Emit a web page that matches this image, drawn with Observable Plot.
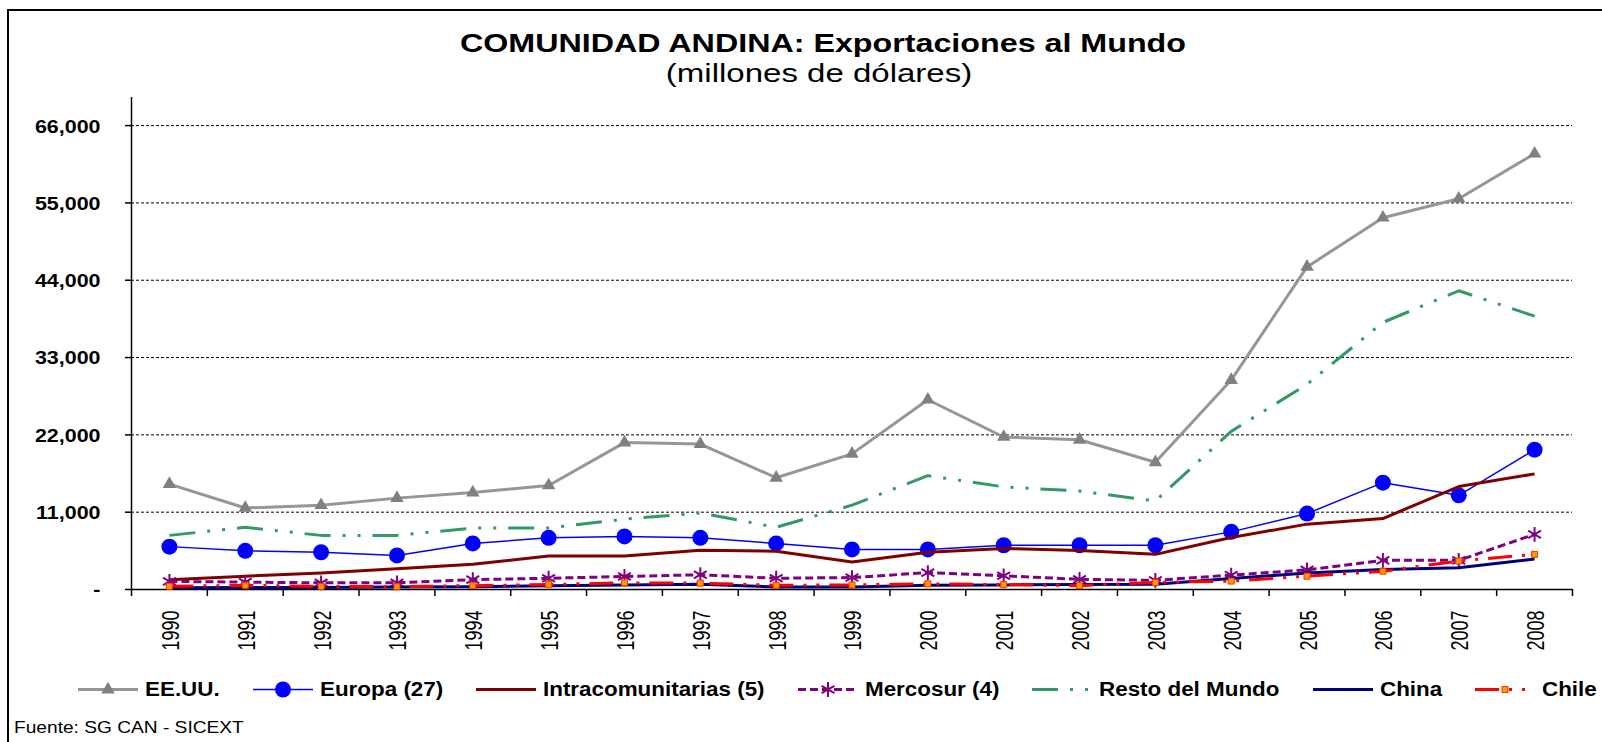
<!DOCTYPE html>
<html>
<head>
<meta charset="utf-8">
<script src="https://cdn.jsdelivr.net/npm/d3@7"></script>
<script src="https://cdn.jsdelivr.net/npm/@observablehq/plot@0.6"></script>
<style>
  html, body { margin: 0; padding: 0; background: #fff; overflow: hidden; }
  #wrap { position: relative; width: 1602px; height: 742px; overflow: hidden; background: #fff;
          font-family: "Liberation Sans", Arial, sans-serif; color: #000; }
  #frame { position: absolute; left: 7px; top: 9px; width: 1640px; height: 800px;
           border: 2px solid #000; box-sizing: border-box; }
  #chart { position: absolute; left: 0; top: 0; }
  .ttl { position: absolute; white-space: nowrap; line-height: 1; transform-origin: center; }
  #title { left: 823px; top: 30px; font-size: 26px; font-weight: bold; transform: translateX(-50%) scaleX(1.24); }
  #subtitle { left: 819px; top: 61px; font-size: 25px; transform: translateX(-50%) scaleX(1.32); }
  #legend { position: absolute; left: 78px; top: 677px; height: 24px; display: flex; align-items: center; gap: 33px; }
  .item { display: flex; align-items: center; height: 24px; }
  .item svg { display: block; margin-right: 7px; }
  .lab { display: inline-block; white-space: nowrap; font-weight: bold; font-size: 20px; line-height: 24px; }
  .lab > span { display: inline-block; transform-origin: left center; }
  #source { position: absolute; left: 14px; top: 719px; font-size: 16.5px; line-height: 1; white-space: nowrap; }
  #source > span { display: inline-block; transform-origin: left center; }
</style>
</head>
<body>
<div id="wrap">
  <div id="frame"></div>
  <div id="chart"></div>
  <div id="title" class="ttl">COMUNIDAD ANDINA: Exportaciones al Mundo</div>
  <div id="subtitle" class="ttl">(millones de dólares)</div>
  <div id="legend"></div>
  <div id="source"><span data-k="1.16">Fuente: SG CAN - SICEXT</span></div>
</div>
<script>
// ---------------- DATA ----------------
const years = [1990, 1991, 1992, 1993, 1994, 1995, 1996, 1997, 1998, 1999,
               2000, 2001, 2002, 2003, 2004, 2005, 2006, 2007, 2008];
const yTicks = [0, 11000, 22000, 33000, 44000, 55000, 66000];
const yMax = 70000;

const seriesNames = ["EE.UU.", "Europa (27)", "Intracomunitarias (5)", "Mercosur (4)",
                     "Resto del Mundo", "China", "Chile"];

const eeuu     = [15000, 11600, 12000, 13000, 13800, 14800, 20900, 20700, 15900, 19300,
                  27000, 21700, 21300, 18100, 29800, 45900, 52900, 55600, 62000];
const europa   = [6100, 5500, 5300, 4850, 6550, 7350, 7550, 7350, 6550, 5700,
                  5700, 6300, 6300, 6300, 8200, 10800, 15200, 13400, 19900];
const intra    = [1400, 1900, 2350, 2950, 3600, 4750, 4750, 5600, 5450, 3900,
                  5300, 5850, 5550, 5000, 7400, 9300, 10100, 14650, 16450];
const mercosur = [1150, 1050, 950, 950, 1400, 1600, 1850, 2100, 1600, 1700,
                  2400, 1950, 1450, 1300, 2050, 2800, 4150, 4150, 7850];
const resto    = [7700, 8850, 7700, 7700, 8750, 8750, 10000, 10900, 8850, 12000,
                  16200, 14600, 14000, 12600, 22500, 29200, 38000, 42500, 38900];
const china    = [250, 300, 300, 350, 400, 550, 650, 750, 350, 350,
                  600, 650, 700, 750, 1550, 2350, 2850, 3100, 4350];
const chile    = [450, 600, 450, 400, 550, 700, 950, 900, 600, 650,
                  800, 700, 550, 1000, 1200, 1900, 2600, 4050, 5000];

const seriesValues = [eeuu, europa, intra, mercosur, resto, china, chile];

// ---------------- STYLES ----------------
const styles = [
  {stroke: "#969696", width: 3,   dash: null,                 symbol: "triangle", r: 5,   fill: "#808080", mstroke: "none"},
  {stroke: "#0000FF", width: 1.5, dash: null,                 symbol: "circle",   r: 8,   fill: "#0000FF", mstroke: "none"},
  {stroke: "#800000", width: 3,   dash: null,                 symbol: null},
  {stroke: "#800080", width: 3,   dash: "8,4",                symbol: "asterisk", r: 7,   fill: "none",    mstroke: "#800080", mwidth: 2},
  {stroke: "#339966", width: 3,   dash: "26,12,3,12,3,12",    symbol: null},
  {stroke: "#000080", width: 3,   dash: null,                 symbol: null},
  {stroke: "#FF0000", width: 3,   dash: "24,10,3,10,3,10",    symbol: "square",   r: 3.4, fill: "#FF9900", mstroke: "#FF3300", mwidth: 1}
];

// long table built from the arrays
const rows = seriesNames.flatMap((name, s) =>
  years.map((year, i) => ({serie: name, year, value: seriesValues[s][i]})));

const xMin = years[0] - 0.5, xMaxB = years[years.length - 1] + 0.5;
const bounds = d3.range(years.length + 1).map(i => xMin + i);
const fmt = d => d === 0 ? "-" : d3.format(",")(d);

const marks = [
  Plot.ruleY(yTicks.filter(d => d > 0), {stroke: "#000", strokeWidth: 1, strokeDasharray: "3,2"}),
  Plot.ruleX([xMin], {stroke: "#000", strokeWidth: 1.5}),
  Plot.ruleY([0], {stroke: "#000", strokeWidth: 1.5}),
  Plot.ruleX(bounds, {x: d => d, y1: 0, y2: 0, insetBottom: -7, stroke: "#000", strokeWidth: 1.5}),
  Plot.ruleY(yTicks, {y: d => d, x1: xMin, x2: xMin, insetLeft: -6, stroke: "#000", strokeWidth: 1.5}),
  Plot.text(yTicks, {x: xMin, y: d => d, text: fmt, textAnchor: "end", dx: -31, dy: 1,
                     fontSize: 18.5, fontWeight: "bold", fill: "#000"}),
  Plot.text(years, {x: d => d, frameAnchor: "bottom", text: d => String(d), rotate: -90,
                    textAnchor: "end", lineAnchor: "middle", dy: 21, dx: 2, fontSize: 18, fill: "#000"})
];

seriesNames.forEach((name, s) => {
  const st = styles[s];
  const data = rows.filter(r => r.serie === name);
  marks.push(Plot.line(data, {x: "year", y: "value", stroke: st.stroke, strokeWidth: st.width,
    strokeDasharray: st.dash || undefined, strokeLinecap: "butt", strokeLinejoin: "round"}));
  if (st.symbol) {
    marks.push(Plot.dot(data, {x: "year", y: "value", symbol: st.symbol, r: st.r,
      fill: st.fill, stroke: st.mstroke, strokeWidth: st.mwidth || 1}));
  }
});

const chart = Plot.plot({
  width: 1602,
  height: 680,
  marginTop: 97,
  marginBottom: 91,
  marginLeft: 131,
  marginRight: 30,
  style: {fontFamily: "'Liberation Sans', Arial, sans-serif", background: "transparent", overflow: "visible"},
  x: {type: "linear", domain: [xMin, xMaxB], axis: null},
  y: {type: "linear", domain: [0, yMax], axis: null},
  marks
});
document.getElementById("chart").appendChild(chart);

// the original font is drawn wide: stretch tick labels along screen-x
const yLabelSet = new Set(yTicks.map(fmt));
const yearSet = new Set(years.map(String));
chart.querySelectorAll("text").forEach(t => {
  const txt = t.textContent.trim();
  const tr = t.getAttribute("transform");
  if (!tr) return;
  if (yLabelSet.has(txt)) {
    t.setAttribute("transform", `${tr} scale(1.16,1)`);
  } else if (yearSet.has(txt) && tr.includes("rotate(")) {
    t.setAttribute("transform", tr.replace("rotate(", "scale(1.3,1) rotate("));
  }
});

// ---------------- LEGEND ----------------
const symMap = {triangle: d3.symbolTriangle, circle: d3.symbolCircle,
                asterisk: d3.symbolAsterisk, square: d3.symbolSquare};
const legend = d3.select("#legend");
seriesNames.forEach((name, s) => {
  const st = styles[s];
  const item = legend.append("div").attr("class", "item");
  const svg = item.append("svg").attr("width", 60).attr("height", 24);
  svg.append("line").attr("x1", 0).attr("x2", 60).attr("y1", 12.5).attr("y2", 12.5)
    .attr("stroke", st.stroke).attr("stroke-width", st.width)
    .attr("stroke-dasharray", st.dash).attr("stroke-linecap", "butt");
  if (st.symbol) {
    svg.append("path")
      .attr("transform", "translate(30,12.5)")
      .attr("d", d3.symbol(symMap[st.symbol], st.r * st.r * Math.PI)())
      .attr("fill", st.fill).attr("stroke", st.mstroke).attr("stroke-width", st.mwidth || 1);
  }
  item.append("span").attr("class", "lab").append("span").attr("data-k", 1.12).text(name);
});

// stretch html text and reserve its stretched width
document.querySelectorAll("[data-k]").forEach(el => {
  const k = +el.dataset.k;
  const w = el.offsetWidth;
  el.style.transform = `scaleX(${k})`;
  el.parentNode.style.width = (w * k) + "px";
});
</script>
</body>
</html>
